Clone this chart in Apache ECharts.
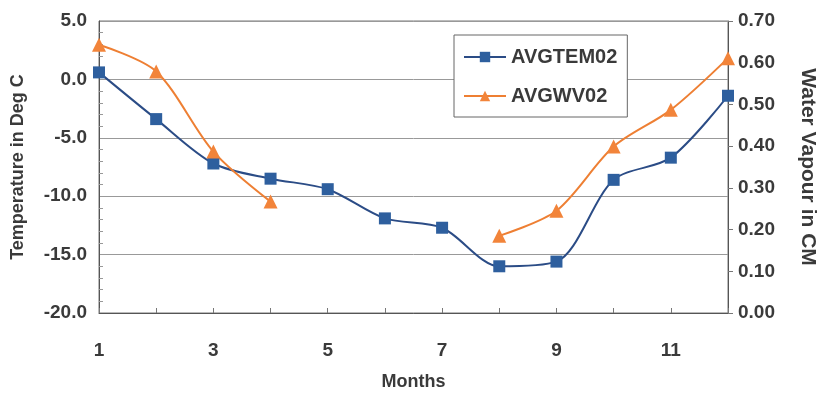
<!DOCTYPE html>
<html>
<head>
<meta charset="utf-8">
<script src="https://cdn.jsdelivr.net/npm/echarts@6/dist/echarts.min.js"></script>
<style>
  html, body { margin: 0; padding: 0; background: #fff; }
  #chart { width: 827px; height: 395px; }
</style>
</head>
<body>
<div id="chart"></div>
<script>
// months on the x axis
const months = ["1", "2", "3", "4", "5", "6", "7", "8", "9", "10", "11", "12"];
// average temperature, deg C (left axis)
const avgTem02 = [0.6, -3.4, -7.2, -8.5, -9.4, -11.9, -12.7, -16.0, -15.6, -8.6, -6.7, -1.4];
// average water vapour, cm (right axis), no data for months 5-7
const avgWv02 = [0.643, 0.579, 0.387, 0.267, null, null, null, 0.185, 0.245, 0.399, 0.487, 0.611];

const fontFam = "'Liberation Sans', Arial, sans-serif";
const labelStyle = { fontFamily: fontFam, fontWeight: "bold", fontSize: 19, color: "#3a3a3a" };
const titleStyle = { fontFamily: fontFam, fontWeight: "bold", fontSize: 18, color: "#3a3a3a" };

const chart = echarts.init(document.getElementById("chart"), null, { renderer: "canvas" });

const option = {
  backgroundColor: "#fff",
  animation: false,
  grid: {
    left: 99, right: 99, top: 21, bottom: 82,
    outerBoundsMode: "none",
    containLabel: false,
    show: true, borderColor: "#777", borderWidth: 1
  },
  legend: {
    orient: "vertical",
    left: 454,
    top: 35,
    width: 172,
    padding: [12, 10, 11, 9],
    itemGap: 19,
    itemWidth: 42,
    itemHeight: 13,
    borderColor: "#666",
    borderWidth: 1,
    backgroundColor: "#fff",
    textStyle: { fontFamily: fontFam, fontWeight: "bold", fontSize: 20, color: "#3a3a3a" },
    data: ["AVGTEM02", "AVGWV02"]
  },
  xAxis: {
    type: "category",
    data: months,
    boundaryGap: false,
    name: "Months",
    nameLocation: "middle",
    nameGap: 60,
    nameTextStyle: titleStyle,
    axisLine: { onZero: false, lineStyle: { color: "#555" } },
    axisTick: { inside: true, length: 5, interval: 0, lineStyle: { color: "#777" } },
    axisLabel: Object.assign({ interval: 1, margin: 28 }, labelStyle),
    splitLine: { show: false }
  },
  yAxis: [
    {
      type: "value",
      min: -20,
      max: 5,
      interval: 5,
      name: "Temperature in Deg C",
      nameLocation: "middle",
      nameGap: 72,
      nameRotate: 90,
      nameTextStyle: titleStyle,
      axisLine: { show: true, lineStyle: { color: "#555" } },
      axisTick: { show: false, inside: true },
      minorTick: { show: true, splitNumber: 5, length: 4, lineStyle: { color: "#999" } },
      axisLabel: Object.assign({ margin: 12, formatter: (v) => v.toFixed(1) }, labelStyle),
      splitLine: { show: true, lineStyle: { color: "#999", width: 1 } }
    },
    {
      type: "value",
      min: 0,
      max: 0.7,
      interval: 0.1,
      name: "Water Vapour in CM",
      nameLocation: "middle",
      nameGap: 69,
      nameRotate: -90,
      nameTextStyle: Object.assign({}, titleStyle, { fontSize: 21 }),
      axisLine: { show: true, lineStyle: { color: "#555" } },
      axisTick: { show: true, length: 5, lineStyle: { color: "#777" } },
      axisLabel: Object.assign({ margin: 10, formatter: (v) => v.toFixed(2) }, labelStyle),
      splitLine: { show: false }
    }
  ],
  series: [
    {
      name: "AVGTEM02",
      type: "line",
      yAxisIndex: 0,
      data: avgTem02,
      smooth: 0.3,
      symbol: "rect",
      symbolSize: 12,
      itemStyle: { color: "#2e5f9e" },
      lineStyle: { color: "#2b4c86", width: 2 }
    },
    {
      name: "AVGWV02",
      type: "line",
      yAxisIndex: 1,
      data: avgWv02,
      connectNulls: false,
      smooth: 0.3,
      symbol: "triangle",
      symbolSize: 14,
      itemStyle: { color: "#f2843a" },
      lineStyle: { color: "#ee7f33", width: 2 }
    }
  ]
};

chart.setOption(option);
</script>
</body>
</html>
